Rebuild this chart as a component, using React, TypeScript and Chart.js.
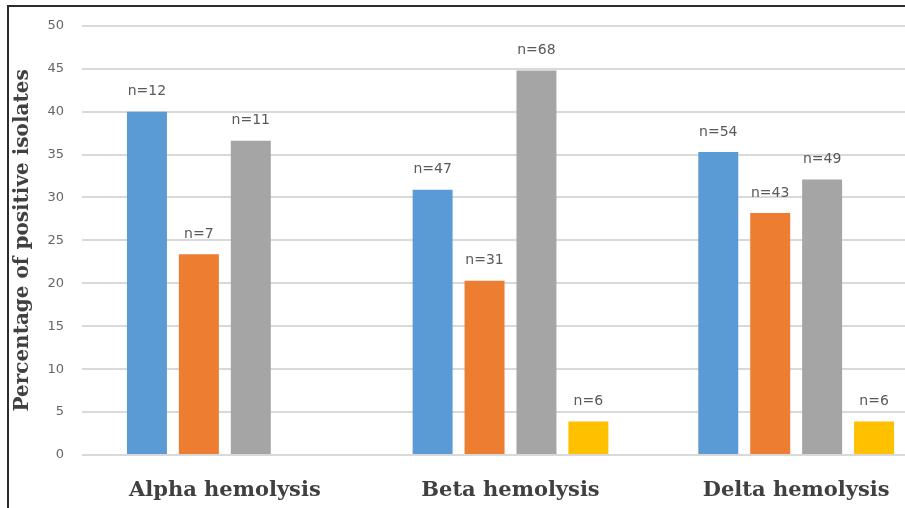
import React, { useEffect, useRef } from "react";
import { Chart, registerables } from "chart.js";

Chart.register(...registerables);

const categories = ["Alpha hemolysis", "Beta hemolysis", "Delta hemolysis"];
const series1 = [40.0, 30.9, 35.3];
const series2 = [23.4, 20.3, 28.2];
const series3 = [36.6, 44.8, 32.1];
const series4: (number | null)[] = [null, 3.9, 3.9];
const labels1 = ["n=12", "n=47", "n=54"];
const labels2 = ["n=7", "n=31", "n=43"];
const labels3 = ["n=11", "n=68", "n=49"];
const labels4 = ["", "n=6", "n=6"];
const yTicks = [0, 5, 10, 15, 20, 25, 30, 35, 40, 45, 50];

const nLabels = [labels1, labels2, labels3, labels4];

const labelPlugin = {
  id: "nlabels",
  afterDatasetsDraw(chart: any) {
    const ctx = chart.ctx;
    ctx.save();
    ctx.font = "14px 'DejaVu Sans', sans-serif";
    ctx.fillStyle = "#595959";
    ctx.textAlign = "center";
    ctx.textBaseline = "middle";
    chart.data.datasets.forEach((ds: any, di: number) => {
      const meta = chart.getDatasetMeta(di);
      meta.data.forEach((el: any, i: number) => {
        const v = ds.data[i];
        const t = nLabels[di][i];
        if (v === null || v === undefined || !t) return;
        ctx.fillText(t, el.x, el.y - 20);
      });
    });
    ctx.restore();
  },
};

export default function App() {
  const ref = useRef<HTMLCanvasElement>(null);
  useEffect(() => {
    document.body.style.margin = "0";
    const chart = new Chart(ref.current as HTMLCanvasElement, {
      type: "bar",
      data: {
        labels: categories,
        datasets: [
          { label: "Series 1", data: series1, backgroundColor: "#5B9BD5" },
          { label: "Series 2", data: series2, backgroundColor: "#ED7D31" },
          { label: "Series 3", data: series3, backgroundColor: "#A5A5A5" },
          { label: "Series 4", data: series4, backgroundColor: "#FFC000" },
        ],
      },
      options: {
        responsive: false,
        animation: false,
        layout: { padding: { left: 11, top: 23, right: 1, bottom: 0 } },
        plugins: { legend: { display: false }, tooltip: { enabled: false } },
        datasets: { bar: { categoryPercentage: 0.727, barPercentage: 0.77 } },
        scales: {
          x: {
            grid: { display: false },
            border: { display: false },
            ticks: {
              color: "#404040",
              font: { family: "'DejaVu Serif', serif", size: 21, weight: "bold" },
              padding: 15,
            },
            afterFit(scale: any) {
              scale.height = 53;
            },
          },
          y: {
            min: 0,
            max: 50,
            afterBuildTicks(scale: any) {
              scale.ticks = yTicks.map((v) => ({ value: v }));
            },
            grid: { color: "#d9d9d9", lineWidth: 2, drawTicks: false },
            border: { display: false },
            ticks: {
              color: "#666666",
              font: { family: "'DejaVu Sans', sans-serif", size: 13 },
              padding: 18,
            },
            title: {
              display: true,
              text: "Percentage of positive isolates",
              color: "#404040",
              font: { family: "'DejaVu Serif', serif", size: 20, weight: "bold" },
              padding: 0,
            },
            afterFit(scale: any) {
              scale.width = 71;
            },
          },
        },
      },
      plugins: [labelPlugin],
    } as any);
    return () => chart.destroy();
  }, []);
  return (
    <div style={{ position: "relative", width: 905, height: 508, overflow: "hidden", background: "#fff" }}>
      <canvas ref={ref} width={940} height={508} style={{ position: "absolute", left: 0, top: 0 }} />
      <div
        style={{
          position: "absolute",
          left: 7,
          top: 5,
          width: 1000,
          height: 600,
          borderTop: "2px solid #2b2b2b",
          borderLeft: "2px solid #2b2b2b",
          pointerEvents: "none",
        }}
      />
    </div>
  );
}
